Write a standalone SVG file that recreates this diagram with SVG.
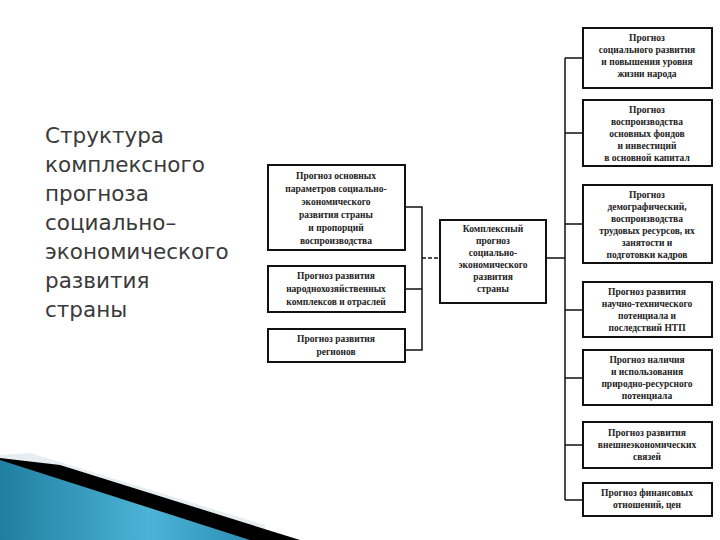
<svg xmlns="http://www.w3.org/2000/svg" width="720" height="540" viewBox="0 0 720 540">
<defs>
<linearGradient id="g" x1="0" y1="0" x2="1" y2="0"><stop offset="0" stop-color="#1f7fa0"/><stop offset="0.6" stop-color="#4db3d6"/><stop offset="1" stop-color="#2a8fb4"/></linearGradient>
</defs>
<style>
.b{fill:#fff;stroke:#111;stroke-width:2}
.t{font-family:"Liberation Serif",serif;font-size:9.5px;font-weight:bold;fill:#222;text-anchor:middle}
.c{fill:none;stroke:#111;stroke-width:1.5}
.h{font-family:"DejaVu Sans",sans-serif;font-size:21.5px;fill:#3a3a3a}
</style>
<rect width="720" height="540" fill="#fff"/>
<polygon points="0,455 30,453 265,525 265,540 0,540" fill="#e6eef2"/>
<polygon points="0,458 60,465 300,540 0,540" fill="#000"/>
<polygon points="0,460 250,540 0,540" fill="url(#g)"/>
<text class="h" x="45" y="143">Структура</text>
<text class="h" x="45" y="172">комплексного</text>
<text class="h" x="45" y="201">прогноза</text>
<text class="h" x="45" y="230">социально–</text>
<text class="h" x="45" y="259">экономического</text>
<text class="h" x="45" y="288">развития</text>
<text class="h" x="45" y="317">страны</text>
<g id="connectors">
<path class="c" d="M405,207 H422 V350 H405 M405,289 H422"/>
<path class="c" d="M422,258 H440" stroke-dasharray="4,2"/>
<path class="c" d="M546,258 H565 M565,58 V500 M565,58 H583 M565,133 H583 M565,224 H583 M565,310 H583 M565,378 H583 M565,445 H583 M565,500 H583"/>
</g>
<g id="a"><rect class="b" x="268" y="165" width="137" height="85"/>
<text class="t" x="336" y="179">Прогноз основных</text><text class="t" x="336" y="192">параметров социально-</text><text class="t" x="336" y="205">экономического</text><text class="t" x="336" y="218">развития страны</text><text class="t" x="336" y="231">и пропорций</text><text class="t" x="336" y="244">воспроизводства</text></g>
<g id="b"><rect class="b" x="268" y="266" width="137" height="46"/>
<text class="t" x="336" y="279">Прогноз развития</text><text class="t" x="336" y="292">народнохозяйственных</text><text class="t" x="336" y="305">комплексов и отраслей</text></g>
<g id="c"><rect class="b" x="268" y="329" width="137" height="33"/>
<text class="t" x="336" y="342">Прогноз развития</text><text class="t" x="336" y="355">регионов</text></g>
<g id="center"><rect class="b" x="440" y="220" width="106" height="83"/>
<text class="t" x="493" y="232">Комплексный</text><text class="t" x="493" y="244">прогноз</text><text class="t" x="493" y="256">социально-</text><text class="t" x="493" y="268">экономического</text><text class="t" x="493" y="280">развития</text><text class="t" x="493" y="292">страны</text></g>
<g id="r1"><rect class="b" x="583" y="28" width="129" height="60"/>
<text class="t" x="647" y="41">Прогноз</text><text class="t" x="647" y="53">социального развития</text><text class="t" x="647" y="65">и повышения уровня</text><text class="t" x="647" y="77">жизни народа</text></g>
<g id="r2"><rect class="b" x="583" y="100" width="129" height="66"/>
<text class="t" x="647" y="113">Прогноз</text><text class="t" x="647" y="125">воспроизводства</text><text class="t" x="647" y="137">основных фондов</text><text class="t" x="647" y="149">и инвестиций</text><text class="t" x="647" y="161">в основной капитал</text></g>
<g id="r3"><rect class="b" x="583" y="185" width="129" height="78"/>
<text class="t" x="647" y="198">Прогноз</text><text class="t" x="647" y="210">демографический,</text><text class="t" x="647" y="222">воспроизводства</text><text class="t" x="647" y="234">трудовых ресурсов, их</text><text class="t" x="647" y="246">занятости и</text><text class="t" x="647" y="258">подготовки кадров</text></g>
<g id="r4"><rect class="b" x="583" y="282" width="129" height="55"/>
<text class="t" x="647" y="295">Прогноз развития</text><text class="t" x="647" y="307">научно-технического</text><text class="t" x="647" y="319">потенциала и</text><text class="t" x="647" y="331">последствий НТП</text></g>
<g id="r5"><rect class="b" x="583" y="350" width="129" height="55"/>
<text class="t" x="647" y="363">Прогноз наличия</text><text class="t" x="647" y="375">и использования</text><text class="t" x="647" y="387">природно-ресурсного</text><text class="t" x="647" y="399">потенциала</text></g>
<g id="r6"><rect class="b" x="583" y="422" width="129" height="46"/>
<text class="t" x="647" y="436">Прогноз развития</text><text class="t" x="647" y="448">внешнеэкономических</text><text class="t" x="647" y="460">связей</text></g>
<g id="r7"><rect class="b" x="583" y="483" width="129" height="33"/>
<text class="t" x="647" y="496">Прогноз финансовых</text><text class="t" x="647" y="508">отношений, цен</text></g>
</svg>
